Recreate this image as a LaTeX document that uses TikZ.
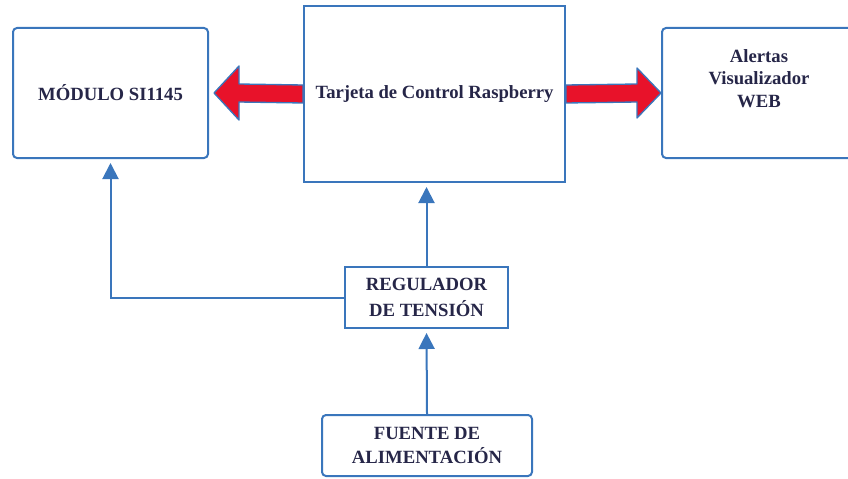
\documentclass[tikz,border=0pt]{standalone}
\usepackage{fontspec}
\setmainfont{Liberation Serif}
\usetikzlibrary{arrows.meta,calc}
\definecolor{azul}{RGB}{58,118,188}
\definecolor{rojo}{RGB}{232,18,42}
\definecolor{tinta}{RGB}{38,38,72}
\tikzset{
    caja/.style={draw=azul,line width=1.5pt,fill=white,align=center,
        text=tinta,font=\fontsize{14}{17}\selectfont\bfseries,inner sep=0pt},
    cajared/.style={caja,rounded corners=3pt},
    flechaazul/.style={draw=azul,line width=1.5pt,shorten >=3pt,
        -{Triangle[length=12pt,width=12pt]}},
    flecharoja/.style={fill=rojo,draw=azul,line width=1pt,line join=round}
}
\begin{document}
\begin{tikzpicture}[x=0.75pt,y=-0.75pt]
    \useasboundingbox (0,0) rectangle (848,478);
    \clip (0,0) rectangle (848,478);
    % Bloques:
    % Se colocan en coordenadas de pixel (y hacia abajo)
    \node [cajared,minimum width=146.25pt,minimum height=97.5pt] (modulo) at (110.5,93) {M\'ODULO SI1145};
    \node [caja,minimum width=195.75pt,minimum height=132pt] (control) at (434.5,94) {Tarjeta de Control Raspberry};
    \node [cajared,minimum width=145.5pt,minimum height=97.5pt,text depth=22pt,
        font=\fontsize{14}{17}\selectfont\bfseries] (alertas) at (759,93) {Alertas\\Visualizador\\WEB};
    \node [caja,minimum width=122.25pt,minimum height=45.75pt,
        font=\fontsize{14}{19}\selectfont\bfseries] (regulador) at (426.5,297.5) {REGULADOR\\DE TENSI\'ON};
    \node [cajared,minimum width=157.5pt,minimum height=45.75pt,
        font=\fontsize{14}{18}\selectfont\bfseries] (fuente) at (427,445.5) {FUENTE DE\\ALIMENTACI\'ON};

    % Flechas gruesas:
    % Son poligonos rojos con borde azul entre los bloques
    \draw [flecharoja] ($(modulo.east)+(5,0)$) -- ($(modulo.east)+(30,-27)$) -- ($(modulo.east)+(30,-9)$)
        -- ($(control.west)+(0,-9)$) -- ($(control.west)+(0,9)$)
        -- ($(modulo.east)+(30,9)$) -- ($(modulo.east)+(30,27)$) -- cycle;
    \draw [flecharoja] (alertas.west) -- ($(alertas.west)+(-24,-25)$) -- ($(alertas.west)+(-24,-9)$)
        -- ($(control.east)+(0,-9)$) -- ($(control.east)+(0,9)$)
        -- ($(alertas.west)+(-24,9)$) -- ($(alertas.west)+(-24,25)$) -- cycle;

    % Flechas de alimentacion:
    \draw [flechaazul] (fuente.north) -- (regulador.south);
    \draw [flechaazul] (regulador.north) -- (regulador.north |- control.south);
    \draw [flechaazul] (regulador.west) -| (modulo.south);
\end{tikzpicture}
\end{document}
